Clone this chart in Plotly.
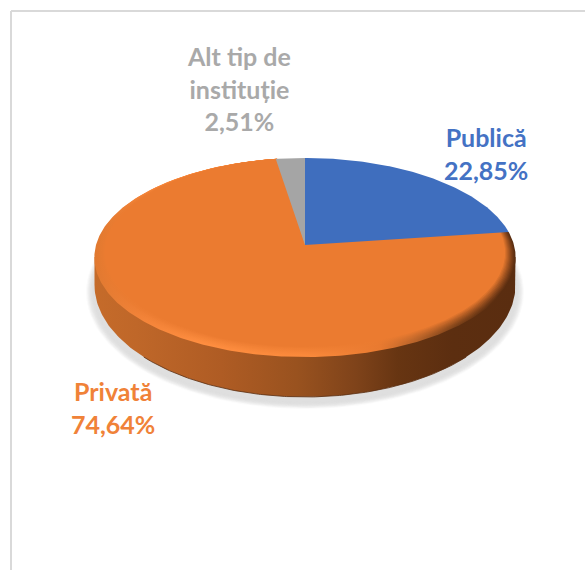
import math
import plotly.graph_objects as go

# ---------- data ----------
categories = ["Publică", "Privată", "Alt tip de<br>instituție"]
values = [22.85, 74.64, 2.51]
colors = ["#3F6EBE", "#EB7B30", "#A5A5A5"]
label_colors = ["#4472C4", "#F08238", "#A9A9A9"]

# ---------- geometry of the tilted disc (pixel axes) ----------
W, H = 585, 570
CX, CY = 305.0, 245.0     # apex of the pie on the page
A, B, K = 209.0, 98.0, 0.1255  # radii and perspective strength
TOP_Y = 158.0


def project(deg, s=1.0):
    """Clockwise degrees from 12 o'clock -> page position; s shrinks the rim for the bevel."""
    t = math.radians(deg)
    u, v = math.sin(t), -math.cos(t)
    w = 1 - K * v
    x = CX + A * u / w
    y = CY + B * v / w
    return CX + (x - CX) * s, TOP_Y + (y - TOP_Y) * s


def wedge(a0, a1, s=1.0):
    n = max(4, int(abs(a1 - a0) * 1.5))
    pts = [project(a0 + (a1 - a0) * i / n, s) for i in range(n + 1)]
    pts = [(CX, CY)] + pts + [(CX, CY)]
    return [p[0] for p in pts], [p[1] for p in pts]


def ellipse(cx, cy, rx, ry, a0=0, a1=360, n=180):
    xs, ys = [], []
    for i in range(n + 1):
        t = math.radians(a0 + (a1 - a0) * i / n)
        xs.append(cx + rx * math.cos(t))
        ys.append(cy + ry * math.sin(t))
    return xs, ys


def hexrgb(c):
    return tuple(int(c[i:i + 2], 16) for i in (1, 3, 5))


def mix(c1, c2, t):
    a, b = hexrgb(c1), hexrgb(c2)
    return "rgb(%d,%d,%d)" % tuple(round(a[i] + (b[i] - a[i]) * t) for i in range(3))


fig = go.Figure()


def poly(xs, ys, color=None, gradient=None):
    kw = dict(x=xs, y=ys, mode="lines", line=dict(width=0), fill="toself",
              hoverinfo="skip", showlegend=False)
    if gradient:
        kw["fillgradient"] = dict(type="horizontal", colorscale=gradient)
    else:
        kw["fillcolor"] = color
    fig.add_trace(go.Scatter(**kw))


# soft shadow below the disc
for i in range(9):
    xs, ys = ellipse(CX, 292, 219 - i * 1.1, 117 - i * 0.9)
    poly(xs, ys, "rgba(222,222,222,%.2f)" % (0.12 + 0.08 * i))

# side wall
wall_stops = [(0, "#C56B2A"), (0.1, "#BF6729"), (0.3, "#AF5C24"), (0.48, "#99521F"),
              (0.62, "#7F431A"), (0.72, "#673512"), (0.85, "#5C2E10"), (1, "#5A2D10")]
xs, ys = ellipse(CX, 285, 210.5, 112, 0, 180)
xs = [515.5] + xs + [94.5]
ys = [257] + ys + [257]
poly(xs, ys, gradient=wall_stops)
xs, ys = ellipse(CX, 285, 210.5, 112, 40, 140)
fig.add_trace(go.Scatter(x=xs, y=ys, mode="lines", line=dict(width=1, color="rgba(90,46,18,0.8)"),
                         hoverinfo="skip", showlegend=False))

# slices: start at 12 o'clock, clockwise
edges = [0.0]
total = sum(values)
for v in values:
    edges.append(edges[-1] + v / total * 360)

# orange slice with bevel rings
rim_stops = [(0, "#E07930"), (0.12, "#F5853A"), (0.25, "#FF8E40"), (0.5, "#FB8A3C"),
             (0.68, "#E87A30"), (0.76, "#B8642A"), (0.86, "#7A4018"), (0.96, "#5A2D10"),
             (1, "#5A2D10")]
STEPS = 10
for i in range(STEPS + 1):
    t = i / STEPS
    s = 1 - 0.05 * t
    xs, ys = wedge(edges[1], edges[2], s)
    grad = [(p, mix(c, colors[1], t ** 1.2)) for p, c in rim_stops]
    poly(xs, ys, gradient=grad)

xs, ys = wedge(edges[0], edges[1])
poly(xs, ys, colors[0])
xs, ys = wedge(edges[2], edges[3])
poly(xs, ys, colors[2])

fig.update_xaxes(range=[0, W], visible=False, fixedrange=True)
fig.update_yaxes(range=[H, 0], visible=False, fixedrange=True)

# data labels
label_pos = [(486, 153.5), (113, 407), (238.5, 88)]
annotations = []
for name, val, col, (lx, ly) in zip(categories, values, label_colors, label_pos):
    annotations.append(dict(
        x=lx, y=ly, xref="x", yref="y", showarrow=False, align="center",
        text="<b>%s<br>%s%%</b>" % (name, ("%.2f" % val).replace(".", ",")),
        font=dict(family="Lato", size=25, color=col)))

border = dict(color="#D9D9D9", width=2)
fig.update_layout(
    width=W, height=H, margin=dict(l=0, r=0, t=0, b=0),
    paper_bgcolor="white", plot_bgcolor="white",
    annotations=annotations,
    shapes=[
        dict(type="line", xref="x", yref="y", x0=11, x1=585, y0=11, y1=11, line=border),
        dict(type="line", xref="x", yref="y", x0=11, x1=11, y0=11, y1=570, line=border),
    ],
)
fig.write_html("out.html", config={"displayModeBar": False},
               post_script="document.body.style.margin='0';document.body.style.overflow='hidden';")
